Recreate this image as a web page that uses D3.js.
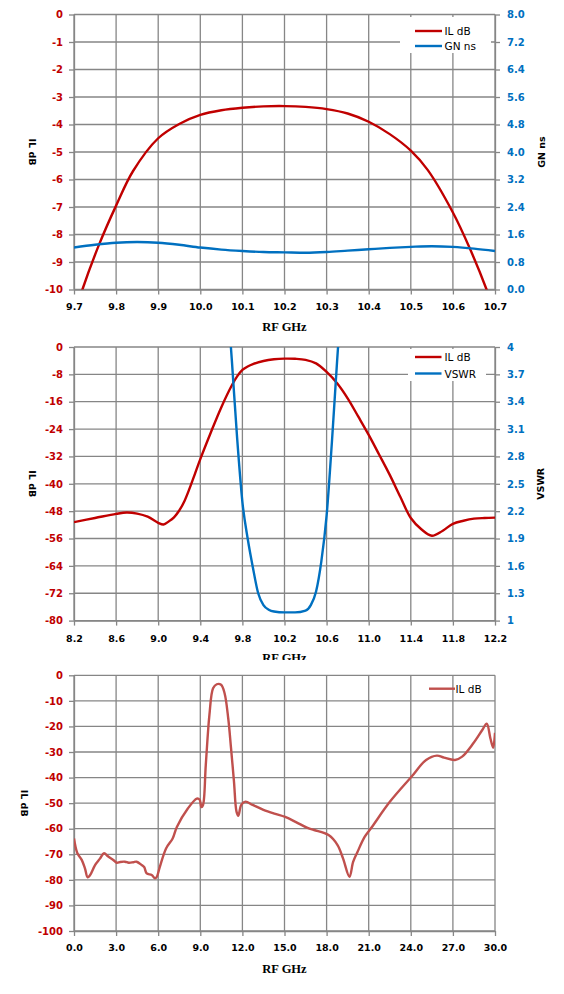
<!DOCTYPE html>
<html lang="en">
<head>
<meta charset="UTF-8">
<title>Filter response</title>
<script src="https://cdn.jsdelivr.net/npm/d3@7"></script>
<style>
  body { margin: 0; background: #fff; }
  svg { display: block; }
</style>
</head>
<body>
<div id="container"></div>
<script>
// ---- values ----
// top panel: passband IL (dB) and group delay (ns)
const topILFreq = [9.70, 9.72, 9.76, 9.80, 9.84, 9.90, 9.95, 10.00, 10.05, 10.10, 10.15, 10.20, 10.25, 10.30, 10.35, 10.40, 10.45, 10.50, 10.54, 10.60, 10.64, 10.68, 10.70];
const topIL     = [-11.0, -10.0, -8.35, -6.95, -5.7, -4.5, -3.98, -3.65, -3.48, -3.39, -3.34, -3.33, -3.36, -3.44, -3.6, -3.9, -4.35, -4.95, -5.65, -7.2, -8.5, -10.0, -10.9];
const topGNFreq = [9.70, 9.75, 9.80, 9.85, 9.90, 9.95, 10.00, 10.05, 10.10, 10.15, 10.20, 10.25, 10.30, 10.35, 10.40, 10.45, 10.50, 10.55, 10.60, 10.65, 10.70];
const topGN     = [1.22, 1.30, 1.36, 1.38, 1.36, 1.30, 1.22, 1.16, 1.12, 1.09, 1.08, 1.07, 1.09, 1.13, 1.17, 1.21, 1.24, 1.26, 1.24, 1.19, 1.12];
const topXTicks  = [9.7, 9.8, 9.9, 10.0, 10.1, 10.2, 10.3, 10.4, 10.5, 10.6, 10.7];
const topILTicks = [0, -1, -2, -3, -4, -5, -6, -7, -8, -9, -10];
const topGNTicks = [0, 0.8, 1.6, 2.4, 3.2, 4.0, 4.8, 5.6, 6.4, 7.2, 8.0];

// middle panel: wide IL (dB) and VSWR
const midILFreq = [8.2, 8.4, 8.6, 8.7, 8.8, 8.9, 9.0, 9.05, 9.1, 9.15, 9.2, 9.25, 9.3, 9.35, 9.4, 9.5, 9.6, 9.7, 9.75, 9.8, 9.85, 9.9, 10.0, 10.1, 10.2, 10.3, 10.4, 10.5, 10.6, 10.7, 10.8, 10.9, 11.0, 11.1, 11.2, 11.3, 11.4, 11.5, 11.6, 11.7, 11.8, 11.9, 12.0, 12.1, 12.2];
const midIL     = [-51.2, -50.0, -48.8, -48.4, -48.7, -49.6, -51.4, -51.9, -51.0, -49.8, -47.8, -45.0, -41.2, -37.0, -32.8, -25.0, -17.6, -11.2, -8.6, -6.7, -5.7, -5.0, -4.1, -3.6, -3.4, -3.45, -3.75, -4.8, -7.3, -10.6, -15.0, -20.3, -25.7, -31.5, -37.4, -43.8, -50.0, -53.3, -55.2, -53.8, -51.7, -50.8, -50.2, -50.0, -49.9];
const midVSWRFreq = [9.6, 9.65, 9.7, 9.75, 9.8, 9.85, 9.9, 9.95, 10.0, 10.05, 10.1, 10.2, 10.3, 10.4, 10.45, 10.5, 10.55, 10.6, 10.65, 10.7, 10.75, 10.8];
const midVSWR     = [5.4, 4.65, 3.85, 3.0, 2.3, 1.9, 1.58, 1.3, 1.17, 1.12, 1.10, 1.09, 1.09, 1.11, 1.17, 1.32, 1.65, 2.15, 2.95, 3.85, 4.7, 5.5];
const midXTicks    = [8.2, 8.6, 9.0, 9.4, 9.8, 10.2, 10.6, 11.0, 11.4, 11.8, 12.2];
const midILTicks   = [0, -8, -16, -24, -32, -40, -48, -56, -64, -72, -80];
const midVSWRTicks = [1, 1.3, 1.6, 1.9, 2.2, 2.5, 2.8, 3.1, 3.4, 3.7, 4];

// bottom panel: broadband IL (dB)
const botFreq = [0.0, 0.24, 0.55, 0.78, 0.97, 1.14, 1.5, 1.85, 2.14, 2.44, 2.8, 3.04, 3.3, 3.63, 3.9, 4.23, 4.46, 4.82, 5.0, 5.18, 5.54, 5.77, 5.9, 6.1, 6.56, 7.03, 7.33, 8.1, 8.75, 8.95, 9.08, 9.19, 9.39, 9.65, 9.91, 10.17, 10.48, 10.73, 10.99, 11.19, 11.4, 11.58, 11.71, 11.92, 12.22, 12.73, 13.5, 14.28, 15.05, 15.82, 16.6, 17.11, 18.14, 18.78, 19.17, 19.63, 19.89, 20.2, 20.71, 21.23, 22.52, 24.06, 25.09, 25.86, 26.37, 27.15, 27.66, 28.44, 29.08, 29.41, 29.67, 29.87, 30.0];
const botIL   = [-63.8, -69.6, -72.2, -75.5, -79.0, -78.2, -74.2, -71.7, -69.6, -70.9, -72.2, -73.3, -73.0, -72.9, -73.3, -73.1, -72.9, -74.2, -75.0, -77.5, -78.1, -79.4, -78.8, -75.2, -67.7, -63.8, -59.3, -52.2, -48.2, -48.6, -51.5, -50.8, -35.1, -15.5, -5.1, -3.5, -3.7, -7.0, -16.8, -28.5, -41.6, -53.3, -54.9, -50.7, -49.4, -50.7, -52.6, -54.1, -55.4, -57.4, -59.6, -60.5, -62.5, -66.4, -71.6, -78.8, -73.0, -69.1, -63.2, -59.3, -49.4, -39.6, -33.1, -31.4, -32.2, -33.1, -31.8, -26.7, -21.5, -18.9, -24.6, -28.3, -22.5];
const botXTicks  = [0, 3, 6, 9, 12, 15, 18, 21, 24, 27, 30];
const botILTicks = [0, -10, -20, -30, -40, -50, -60, -70, -80, -90, -100];

// ---- drawing ----
const width = 564, height = 994;
const plotLeft = 74, plotRight = 495;
const gridColor = "#868686";
const ilRed = "#C00000", gnBlue = "#0070C0", softRed = "#C0504D";

const svg = d3.select("#container").append("svg")
    .attr("width", width)
    .attr("height", height);
svg.append("rect").attr("width", width).attr("height", height).attr("fill", "#fff");

function styleAxis(ax, color, size) {
    ax.attr("font-family", null).attr("font-size", null);
    ax.select(".domain").attr("stroke", gridColor).attr("stroke-width", 1.3);
    ax.selectAll(".tick line").attr("stroke", gridColor).attr("stroke-width", 1.3);
    ax.selectAll(".tick text")
        .attr("fill", color)
        .attr("font-family", "'DejaVu Sans', sans-serif")
        .attr("font-weight", "bold")
        .attr("font-size", size);
}

function vTitle(g, text, x, y, angle) {
    g.append("text")
        .attr("x", x).attr("y", y)
        .attr("transform", `rotate(${angle},${x},${y})`)
        .attr("text-anchor", "middle")
        .attr("dominant-baseline", "central")
        .attr("font-family", "'DejaVu Sans', sans-serif")
        .attr("font-weight", "bold")
        .attr("font-size", 9.5)
        .text(text);
}

function drawPanel(p, idx) {
    const g = svg.append("g");
    if (p.bg) {
        g.append("rect").attr("x", 0).attr("y", p.bg[0])
            .attr("width", width).attr("height", p.bg[1]).attr("fill", "#fff");
    }
    const x = d3.scaleLinear().domain(p.xDomain).range([plotLeft, plotRight]);
    const y = d3.scaleLinear().domain(p.yDomain).range([p.bottom, p.top]);
    const y2 = p.y2Domain ? d3.scaleLinear().domain(p.y2Domain).range([p.bottom, p.top]) : null;

    // grid
    g.append("g").selectAll("line").data(p.yTicks).join("line")
        .attr("x1", plotLeft).attr("x2", plotRight)
        .attr("y1", d => y(d)).attr("y2", d => y(d))
        .attr("stroke", gridColor).attr("stroke-width", 1.3);
    g.append("g").selectAll("line").data(p.xTicks).join("line")
        .attr("x1", d => x(d)).attr("x2", d => x(d))
        .attr("y1", p.top).attr("y2", p.bottom)
        .attr("stroke", gridColor).attr("stroke-width", 1.3);

    // axes (plain hyphen for negatives, like the original)
    const xAxis = g.append("g")
        .attr("transform", `translate(0,${p.bottom})`)
        .call(d3.axisBottom(x).tickValues(p.xTicks).tickFormat(d => d.toFixed(1))
            .tickSize(5).tickSizeOuter(0).tickPadding(p.xPad));
    styleAxis(xAxis, "#000", 9.5);

    const yAxis = g.append("g")
        .attr("transform", `translate(${plotLeft},0)`)
        .call(d3.axisLeft(y).tickValues(p.yTicks).tickFormat(d => String(d))
            .tickSize(5).tickSizeOuter(0).tickPadding(6));
    styleAxis(yAxis, ilRed, 10);

    if (y2) {
        const yAxis2 = g.append("g")
            .attr("transform", `translate(${plotRight},0)`)
            .call(d3.axisRight(y2).tickValues(p.y2Ticks).tickFormat(p.y2Format)
                .tickSize(5).tickSizeOuter(0).tickPadding(7));
        styleAxis(yAxis2, gnBlue, 10);
    }

    // titles
    g.append("text")
        .attr("x", (plotLeft + plotRight) / 2).attr("y", p.titleY)
        .attr("text-anchor", "middle")
        .attr("dominant-baseline", "central")
        .attr("font-family", "'Liberation Serif', serif")
        .attr("font-weight", "bold")
        .attr("font-size", 12.5)
        .text("RF GHz");
    vTitle(g, "IL dB", p.leftTitleX, (p.top + p.bottom) / 2, 90);
    if (p.rightTitle) vTitle(g, p.rightTitle, 541, (p.top + p.bottom) / 2, -90);

    // legend box (drawn under the lines)
    if (p.legendBox) {
        const b = p.legendBox;
        g.append("rect").attr("x", b[0]).attr("y", b[1])
            .attr("width", b[2] - b[0]).attr("height", b[3] - b[1]).attr("fill", "#fff");
    }

    // series
    const clipId = "clip" + idx;
    g.append("clipPath").attr("id", clipId)
        .append("rect").attr("x", plotLeft).attr("y", p.top)
        .attr("width", plotRight - plotLeft).attr("height", p.bottom - p.top);

    p.series.forEach(s => {
        const sy = s.axis === 2 ? y2 : y;
        const pts = s.freq.map((f, i) => [f, s.vals[i]]);
        const line = d3.line()
            .x(d => x(d[0]))
            .y(d => sy(d[1]))
            .curve(s.axis === 2 ? d3.curveMonotoneX : d3.curveCatmullRom.alpha(0.5));
        g.append("path")
            .datum(pts)
            .attr("clip-path", `url(#${clipId})`)
            .attr("fill", "none")
            .attr("stroke", s.color)
            .attr("stroke-width", 2.4)
            .attr("stroke-linejoin", "round")
            .attr("d", line);
    });

    // legend entries
    p.series.forEach((s, i) => {
        const ly = p.legend.y[i];
        g.append("line")
            .attr("x1", p.legend.x1).attr("x2", p.legend.x2)
            .attr("y1", ly).attr("y2", ly)
            .attr("stroke", s.color).attr("stroke-width", 2.4);
        g.append("text")
            .attr("x", p.legend.tx).attr("y", ly)
            .attr("dominant-baseline", "central")
            .attr("font-family", "'DejaVu Sans', sans-serif")
            .attr("font-size", 10.5)
            .text(s.name);
    });
}

const panels = [
    {
        top: 14.5, bottom: 289.5,
        xDomain: [9.7, 10.7], xTicks: topXTicks, xPad: 9,
        yDomain: [-10, 0], yTicks: topILTicks,
        y2Domain: [0, 8], y2Ticks: topGNTicks, y2Format: d => d.toFixed(1),
        titleY: 327, leftTitleX: 32, rightTitle: "GN ns",
        legendBox: [400, 17, 491, 53],
        legend: { x1: 415, x2: 442, tx: 444.5, y: [31, 46] },
        series: [
            { name: "IL dB", freq: topILFreq, vals: topIL, color: ilRed, axis: 1 },
            { name: "GN ns", freq: topGNFreq, vals: topGN, color: gnBlue, axis: 2 }
        ]
    },
    {
        top: 347, bottom: 620.6,
        xDomain: [8.2, 12.2], xTicks: midXTicks, xPad: 10,
        yDomain: [-80, 0], yTicks: midILTicks,
        y2Domain: [1, 4], y2Ticks: midVSWRTicks, y2Format: d => String(+d.toFixed(1)),
        titleY: 658, leftTitleX: 32, rightTitle: "VSWR",
        legendBox: [408, 349, 486, 381],
        legend: { x1: 415, x2: 441.5, tx: 444.5, y: [357, 373.5] },
        series: [
            { name: "IL dB", freq: midILFreq, vals: midIL, color: ilRed, axis: 1 },
            { name: "VSWR", freq: midVSWRFreq, vals: midVSWR, color: gnBlue, axis: 2 }
        ]
    },
    {
        bg: [660, 334],
        top: 675.3, bottom: 931,
        xDomain: [0, 30], xTicks: botXTicks, xPad: 8,
        yDomain: [-100, 0], yTicks: botILTicks,
        titleY: 969, leftTitleX: 24.5,
        legend: { x1: 429, x2: 455, tx: 455.5, y: [688.7] },
        series: [
            { name: "IL dB", freq: botFreq, vals: botIL, color: softRed, axis: 1 }
        ]
    }
];

panels.forEach(drawPanel);
</script>
</body>
</html>
